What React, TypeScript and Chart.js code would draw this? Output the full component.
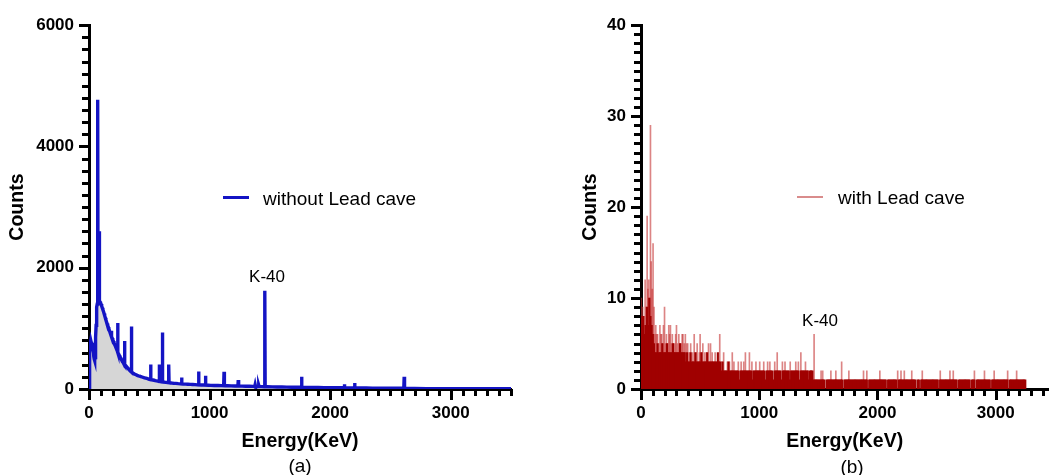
import React, { useEffect, useRef } from 'react';
import { Chart, registerables } from 'chart.js';

Chart.register(...registerables);

const FONT = '"Liberation Sans", Arial, Helvetica, sans-serif';

// ---------- Panel (a): without Lead cave — [energy keV, counts] ----------
const bluePoints: [number, number][] = [
  [0, 0], [2, 560], [5, 740], [8, 690], [11, 760], [14, 720], [17, 780], [20, 740], [23, 770], [26, 730],
  [29, 760], [32, 720], [35, 700], [38, 620], [41, 540], [44, 490], [47, 470], [50, 520], [53, 650], [56, 850],
  [59, 1050], [62, 1250], [65, 1350], [68, 1400], [71, 1430], [73, 4770], [75, 1440], [78, 1460], [81, 1470], [83, 2600],
  [85, 1460], [88, 1450], [92, 1440], [96, 1420], [100, 1400], [105, 1370], [110, 1340], [115, 1310], [120, 1280], [125, 1245],
  [130, 1210], [135, 1175], [140, 1140], [145, 1110], [150, 1080], [155, 1050], [160, 1020], [165, 990], [170, 960], [175, 930],
  [180, 900], [184, 875], [186, 960], [188, 860], [192, 840], [197, 815], [202, 790], [207, 765], [212, 740], [217, 715],
  [222, 690], [227, 665], [232, 640], [236, 620], [238, 1087], [240, 600], [245, 580], [250, 560], [255, 540], [260, 520],
  [265, 505], [270, 485], [275, 470], [280, 450], [285, 435], [290, 420], [293, 410], [295, 790], [297, 400], [302, 390],
  [307, 380], [312, 368], [317, 357], [322, 345], [327, 335], [332, 320], [337, 312], [342, 300], [347, 290], [350, 285],
  [352, 1030], [354, 280], [360, 270], [370, 255], [380, 245], [390, 235], [400, 225], [410, 218], [420, 212], [430, 205],
  [440, 198], [450, 190], [460, 185], [470, 180], [480, 174], [490, 168], [500, 160], [505, 158], [508, 156], [511, 405],
  [514, 154], [520, 152], [530, 148], [540, 144], [550, 138], [560, 134], [570, 130], [578, 127], [581, 126], [583, 405],
  [585, 125], [590, 124], [595, 122], [600, 120], [605, 119], [607, 118], [609, 930], [611, 117], [615, 116], [620, 115],
  [630, 112], [640, 110], [650, 108], [658, 106], [660, 105], [662, 405], [664, 104], [670, 102], [680, 100], [690, 97],
  [700, 95], [720, 92], [740, 88], [760, 85], [765, 84], [768, 190], [771, 83], [780, 82], [800, 80], [820, 78],
  [840, 76], [860, 74], [880, 72], [900, 68], [906, 68], [909, 290], [912, 67], [930, 66], [950, 65], [963, 64],
  [966, 218], [969, 63], [990, 61], [1010, 60], [1040, 58], [1070, 57], [1100, 55], [1117, 54], [1120, 284], [1123, 54],
  [1150, 53], [1180, 52], [1210, 50], [1235, 50], [1238, 148], [1241, 49], [1270, 48], [1300, 46], [1330, 45], [1360, 44],
  [1375, 43], [1378, 70], [1381, 42], [1400, 41], [1405, 41], [1408, 60], [1411, 40], [1430, 39], [1455, 38], [1458, 1620],
  [1461, 37], [1480, 36], [1520, 35], [1560, 34], [1600, 33], [1640, 31], [1680, 30], [1720, 29], [1760, 28], [1763, 200],
  [1766, 27], [1800, 26], [1850, 25], [1900, 24], [1950, 23], [2000, 22], [2050, 21], [2100, 20], [2115, 20], [2118, 80],
  [2121, 19], [2150, 19], [2200, 18], [2203, 100], [2206, 17], [2250, 17], [2300, 16], [2350, 15], [2400, 15], [2450, 14],
  [2500, 13], [2550, 13], [2600, 12], [2611, 12], [2614, 200], [2617, 11], [2650, 9], [2700, 8], [2800, 7], [2900, 6],
  [3000, 5], [3100, 5], [3200, 4], [3300, 4], [3400, 3], [3500, 3],
];
const aXTicks = { min: 0, max: 3500, step: 100, major: 1000 };
const aYTicks = { min: 0, max: 6000, step: 200, major: 2000 };

// ---------- Panel (b): with Lead cave ----------
const redBinStart = 0; // keV
const redBinWidth = 10; // keV
// typical counts per 10 keV bin (dense body of the spectrum)
const redDense = [
  7, 8, 8, 6, 7, 9, 7, 10, 8, 7,
  6, 5, 4, 4, 5, 4, 4, 4, 5, 4,
  4, 4, 5, 4, 4, 4, 4, 5, 4, 4,
  4, 4, 4, 5, 4, 4, 4, 4, 3, 4,
  3, 3, 4, 3, 3, 3, 4, 3, 3, 3,
  3, 4, 3, 3, 3, 3, 4, 3, 3, 3,
  3, 3, 3, 3, 3, 4, 3, 3, 2, 3,
  2, 2, 2, 2, 3, 2, 2, 2, 2, 2,
  2, 2, 2, 1, 2, 2, 2, 2, 2, 2,
  2, 2, 2, 2, 1, 2, 2, 2, 2, 2,
  2, 2, 2, 2, 2, 1, 2, 2, 2, 2,
  2, 2, 1, 2, 2, 2, 2, 2, 2, 1,
  2, 2, 2, 2, 2, 2, 1, 2, 2, 2,
  2, 2, 2, 2, 1, 2, 2, 2, 2, 2,
  2, 2, 1, 2, 2, 2, 1, 1, 1, 1,
  1, 1, 1, 1, 1, 1, 0, 1, 1, 1,
  1, 1, 1, 1, 1, 1, 1, 1, 1, 1,
  1, 0, 1, 1, 1, 1, 1, 1, 1, 1,
  1, 1, 1, 1, 1, 1, 1, 1, 1, 1,
  1, 1, 0, 1, 1, 1, 1, 1, 1, 1,
  1, 1, 1, 1, 1, 1, 1, 1, 0, 1,
  1, 1, 1, 1, 1, 1, 1, 0, 1, 1,
  1, 1, 1, 1, 1, 1, 1, 1, 1, 1,
  1, 1, 1, 0, 1, 1, 0, 1, 1, 1,
  1, 1, 1, 1, 1, 1, 1, 1, 1, 1,
  1, 1, 0, 1, 1, 1, 1, 1, 1, 1,
  1, 1, 1, 1, 1, 1, 1, 1, 0, 1,
  1, 1, 1, 1, 1, 1, 1, 1, 1, 0,
  1, 1, 1, 0, 1, 1, 1, 1, 1, 1,
  1, 1, 1, 1, 1, 1, 0, 1, 1, 1,
  1, 1, 1, 1, 1, 1, 1, 1, 1, 1,
  1, 0, 1, 1, 1, 1, 1, 1, 1, 1,
  1, 1, 1, 1, 1, 1,
];
// single-channel counts that stick out above the body — [energy keV, counts]
const redSpikes: [number, number][] = [
  [3, 10], [8, 7], [14, 9], [22, 8], [28, 7], [35, 12], [45, 9], [52, 19], [58, 11], [66, 12],
  [74, 10], [80, 29], [86, 14], [95, 11], [102, 16], [110, 9], [118, 6], [125, 7], [133, 6], [140, 6],
  [150, 5], [160, 7], [168, 6], [175, 6], [183, 5], [190, 7], [199, 9], [207, 5], [215, 6], [225, 5],
  [235, 7], [242, 6], [249, 7], [258, 5], [265, 6], [275, 5], [285, 5], [293, 6], [300, 7], [310, 5],
  [320, 6], [330, 5], [340, 5], [348, 6], [355, 6], [365, 5], [375, 6], [385, 5], [395, 5], [408, 4],
  [420, 5], [437, 4], [450, 6], [466, 4], [475, 5], [493, 4], [500, 6], [516, 4], [523, 5], [539, 4],
  [553, 4], [571, 5], [588, 5], [602, 4], [627, 4], [666, 6], [684, 3], [699, 4], [731, 3], [748, 3],
  [772, 4], [786, 3], [823, 3], [847, 3], [869, 3], [883, 4], [917, 4], [938, 3], [972, 3], [1004, 3],
  [1038, 3], [1071, 3], [1090, 3], [1131, 3], [1152, 4], [1196, 3], [1218, 3], [1262, 3], [1309, 3], [1331, 3],
  [1352, 4], [1391, 3], [1413, 2], [1440, 2], [1464, 6], [1523, 2], [1537, 2], [1606, 2], [1648, 2], [1697, 3],
  [1758, 2], [1882, 2], [1910, 2], [2020, 2], [2171, 2], [2199, 2], [2227, 2], [2290, 2], [2379, 2], [2531, 2],
  [2613, 2], [2641, 2], [2820, 2], [2905, 2], [2987, 2], [3101, 2], [3177, 2],
];
const bXTicks = { min: 0, max: 3445, step: 100, major: 1000 };
const bYTicks = { min: 0, max: 40, step: 1, major: 10 };

// ---------- helpers ----------
function makeTickPlugin(xMajor: number, yMajor: number) {
  return {
    id: 'axisTicks',
    afterDraw(chart: any) {
      const { ctx } = chart;
      const xs = chart.scales.x;
      const ys = chart.scales.y;
      ctx.save();
      ctx.strokeStyle = '#000';
      ctx.lineWidth = 3;
      ctx.lineCap = 'butt';
      xs.ticks.forEach((t: any) => {
        const px = Math.round(xs.getPixelForValue(t.value)) + 0.5;
        const major = Math.abs(t.value % xMajor) < 1e-6;
        ctx.beginPath();
        ctx.moveTo(px, xs.top);
        ctx.lineTo(px, xs.top + (major ? 11 : 7));
        ctx.stroke();
      });
      ys.ticks.forEach((t: any) => {
        const py = Math.round(ys.getPixelForValue(t.value)) + 0.5;
        const major = Math.abs(t.value % yMajor) < 1e-6;
        ctx.beginPath();
        ctx.moveTo(ys.right, py);
        ctx.lineTo(ys.right - (major ? 10 : 7), py);
        ctx.stroke();
      });
      ctx.restore();
    },
  };
}

function axisOptions(
  xt: { min: number; max: number; step: number; major: number },
  yt: { min: number; max: number; step: number; major: number },
  yWidth: number,
  yTitlePad: number
) {
  const tickFont = { family: FONT, size: 17, weight: 'bold' as const };
  const titleFont = { family: FONT, size: 19.5, weight: 'bold' as const };
  return {
    x: {
      type: 'linear' as const,
      min: xt.min,
      max: xt.max,
      offset: false,
      grid: { display: false, drawTicks: false },
      border: { display: true, color: '#000', width: 3 },
      ticks: {
        stepSize: xt.step,
        autoSkip: false,
        includeBounds: false,
        maxRotation: 0,
        padding: 14,
        color: '#000',
        font: tickFont,
        callback: (v: any) => (Number(v) % xt.major === 0 ? String(v) : ''),
      },
      title: {
        display: true,
        text: 'Energy(KeV)',
        color: '#000',
        font: titleFont,
        padding: { top: 22, bottom: 22 },
      },
      afterFit: (s: any) => {
        s.height = 86;
      },
    },
    y: {
      type: 'linear' as const,
      min: yt.min,
      max: yt.max,
      grid: { display: false, drawTicks: false },
      border: { display: true, color: '#000', width: 3 },
      ticks: {
        stepSize: yt.step,
        autoSkip: false,
        padding: 15,
        color: '#000',
        font: tickFont,
        callback: (v: any) => (Number(v) % yt.major === 0 ? String(v) : ''),
      },
      title: {
        display: true,
        text: 'Counts',
        color: '#000',
        font: titleFont,
        padding: { top: yTitlePad, bottom: yTitlePad },
      },
      afterFit: (s: any) => {
        s.width = yWidth;
      },
    },
  };
}

function LeftPanel() {
  const ref = useRef<HTMLCanvasElement>(null);
  useEffect(() => {
    if (!ref.current) return;
    const points = bluePoints.map(([e, c]) => ({ x: e, y: c }));
    const chart = new Chart(ref.current, {
      type: 'line',
      data: {
        datasets: [
          {
            label: 'without Lead cave',
            data: points,
            borderColor: '#1414c4',
            backgroundColor: '#d6d6d6',
            borderWidth: 3.4,
            pointRadius: 0,
            tension: 0,
            fill: 'origin',
          },
        ],
      },
      options: {
        responsive: false,
        animation: false,
        layout: { padding: { top: 23, right: 29, bottom: 0, left: 0 } },
        plugins: { legend: { display: false }, tooltip: { enabled: false } },
        scales: axisOptions(aXTicks, aYTicks, 89, 6.4) as any,
      },
      plugins: [makeTickPlugin(aXTicks.major, aYTicks.major)],
    });
    return () => chart.destroy();
  }, []);
  return <canvas ref={ref} width={540} height={475} style={{ position: 'absolute', left: 0, top: 0 }} />;
}

function RightPanel() {
  const ref = useRef<HTMLCanvasElement>(null);
  useEffect(() => {
    if (!ref.current) return;
    const dense = redDense.map((c, i) => ({ x: redBinStart + i * redBinWidth, y: c }));
    const spikes = redSpikes.map(([e, c]) => ({ x: e, y: c }));
    const chart = new Chart(ref.current, {
      type: 'bar',
      data: {
        datasets: [
          {
            label: 'with Lead cave',
            data: dense,
            backgroundColor: '#a00000',
            barThickness: 1.5,
            grouped: false,
          } as any,
          {
            label: 'spikes',
            data: spikes,
            backgroundColor: 'rgba(196, 50, 50, 0.6)',
            barThickness: 1,
            grouped: false,
          } as any,
        ],
      },
      options: {
        responsive: false,
        animation: false,
        layout: { padding: { top: 23, right: 0, bottom: 0, left: 0 } },
        plugins: { legend: { display: false }, tooltip: { enabled: false } },
        scales: axisOptions(bXTicks, bYTicks, 96, 34) as any,
      },
      plugins: [makeTickPlugin(bXTicks.major, bYTicks.major)],
    });
    return () => chart.destroy();
  }, []);
  return <canvas ref={ref} width={512} height={475} style={{ position: 'absolute', left: 545, top: 0 }} />;
}

function Text(props: { x: number; y: number; text: string; size: number; bold?: boolean; anchor?: 'left' | 'center' }) {
  const { x, y, text, size, bold, anchor = 'center' } = props;
  return (
    <div
      style={{
        position: 'absolute',
        left: x,
        top: y,
        transform: anchor === 'center' ? 'translate(-50%, -50%)' : 'translate(0, -50%)',
        fontFamily: FONT,
        fontSize: size,
        fontWeight: bold ? 700 : 400,
        lineHeight: 1,
        whiteSpace: 'nowrap',
        color: '#000',
      }}
    >
      {text}
    </div>
  );
}

export default function App() {
  return (
    <div style={{ position: 'absolute', left: 0, top: 0, width: 1057, height: 475, background: '#fff', overflow: 'hidden' }}>
      <LeftPanel />
      <RightPanel />
      {/* legends */}
      <div style={{ position: 'absolute', left: 223, top: 196, width: 26, height: 3, background: '#1414c4' }} />
      <Text x={263} y={198} text="without Lead cave" size={19} anchor="left" />
      <div style={{ position: 'absolute', left: 797, top: 196, width: 26, height: 2, background: '#d98c8c' }} />
      <Text x={838} y={197} text="with Lead cave" size={19} anchor="left" />
      {/* annotations */}
      <Text x={267} y={276} text="K-40" size={17} />
      <Text x={820} y={320} text="K-40" size={17} />
      <Text x={300} y={465} text="(a)" size={19} />
      <Text x={852} y={466} text="(b)" size={19} />
    </div>
  );
}
